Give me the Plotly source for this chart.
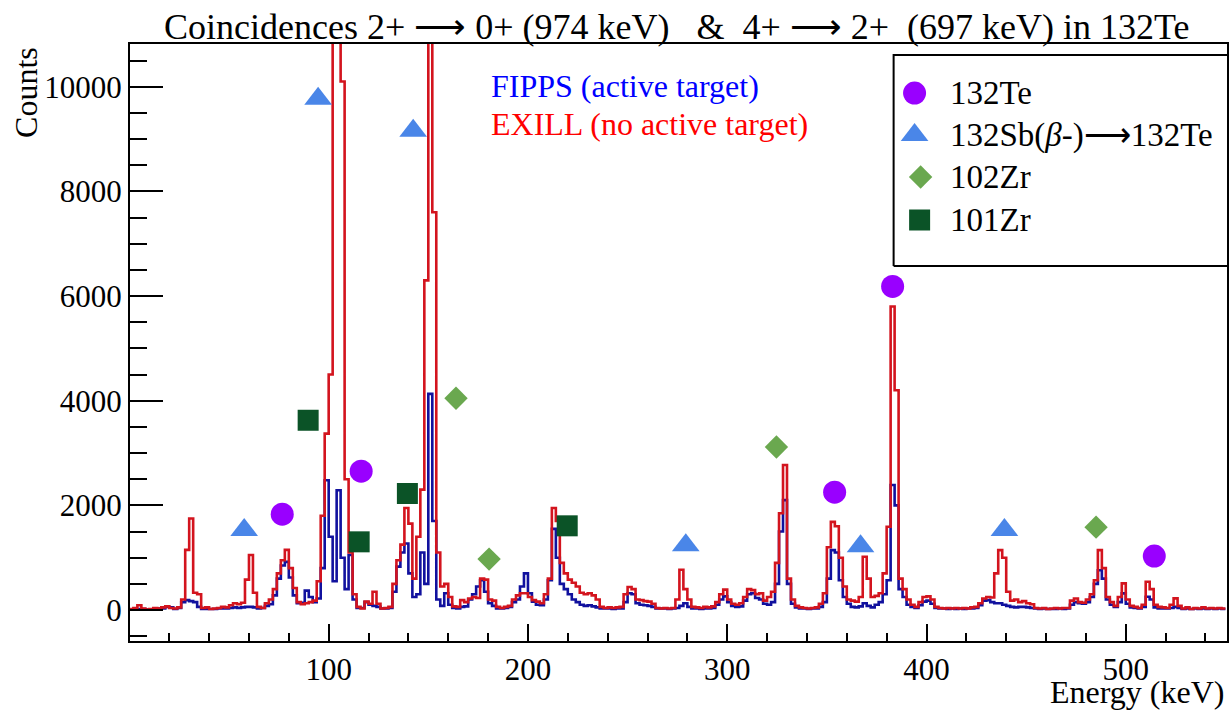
import plotly.graph_objects as go

# ---------------- data (2 keV bins, from 0 keV) ----------------
BIN_WIDTH = 2.0
E_START = 0.0

exill_counts = [
    20, 40, 90, 30, 10, 20, 40, 30, 50, 70,            # 0-20
    40, 30, 50, 200, 1150, 1750, 330, 300, 40, 50,     # 20-40
    20, 30, 40, 60, 50, 90, 130, 110, 140, 580,        # 40-60
    1050, 330, 60, 40, 130, 200, 400, 700, 950, 1150,  # 60-80
    800, 420, 150, 110, 130, 150, 180, 550, 1800, 3370,  # 80-100
    4500, 12000, 20000, 10100, 2500, 1100, 300, 60, 30, 160,  # 100-120
    120, 350, 120, 30, 40, 60, 500, 950, 1250, 1950,   # 120-140
    1650, 600, 1400, 2300, 6300, 17000, 7600, 1100, 450, 500,  # 140-160
    250, 70, 60, 190, 150, 220, 250, 230, 600, 580,    # 160-180
    200, 180, 60, 40, 60, 80, 200, 280, 320, 320,      # 180-200
    250, 190, 160, 130, 300, 600, 1950, 1700, 900, 700,  # 200-220
    580, 520, 450, 330, 300, 320, 280, 200, 60, 40,    # 220-240
    50, 40, 50, 60, 300, 440, 400, 200, 190, 170,      # 240-260
    160, 120, 40, 30, 40, 30, 40, 200, 770, 400,       # 260-280
    200, 60, 50, 40, 60, 50, 70, 150, 300, 390,        # 280-300
    200, 120, 100, 130, 250, 400, 380, 300, 320, 180,  # 300-320
    250, 350, 900, 1850, 2770, 600, 200, 80, 50, 40,   # 320-340
    30, 40, 50, 120, 320, 1200, 1685, 1600, 1000, 450,  # 340-360
    200, 180, 160, 250, 1018, 600, 250, 270, 320, 700,  # 360-380
    1590, 5800, 4200, 600, 400, 200, 100, 60, 150, 250,  # 380-400
    260, 200, 60, 40, 30, 40, 30, 40, 30, 40,          # 400-420
    30, 50, 60, 130, 220, 250, 240, 700, 1145, 1000,   # 420-440
    350, 180, 200, 150, 170, 130, 110, 40, 30, 40,     # 440-460
    20, 30, 40, 30, 40, 40, 180, 220, 150, 140,        # 460-480
    200, 300, 570, 1145, 800, 250, 150, 80, 250, 509,  # 480-500
    200, 80, 60, 40, 100, 540, 400, 100, 60, 50,       # 500-520
    40, 100, 222, 80, 30, 50, 20, 40, 30, 50,          # 520-540
    30, 40, 30, 40, 30,                                # 540-550
]

fipps_counts = [
    10, 10, 20, 20, 10, 10, 20, 30, 30, 60,            # 0-20
    50, 20, 40, 150, 190, 170, 150, 60, 20, 20,        # 20-40
    20, 20, 30, 30, 30, 40, 50, 40, 50, 60,            # 40-60
    60, 50, 30, 40, 80, 110, 280, 600, 850, 920,       # 60-80
    620, 280, 130, 140, 370, 250, 150, 220, 800, 2480,  # 80-100
    1400, 550, 2290, 1000, 400, 1050, 200, 40, 40, 150,  # 100-120
    100, 80, 60, 30, 30, 40, 350, 830, 1100, 1270,     # 120-140
    700, 250, 300, 1100, 500, 4130, 1700, 200, 80, 320,  # 140-160
    100, 40, 30, 60, 70, 200, 300, 450, 570, 350,      # 160-180
    130, 80, 30, 30, 40, 60, 150, 200, 450, 700,       # 180-200
    320, 160, 100, 90, 200, 570, 1550, 1000, 500, 400,  # 200-220
    300, 200, 150, 100, 80, 90, 70, 50, 30, 30,        # 220-240
    30, 20, 30, 30, 150, 320, 300, 130, 100, 90,       # 240-260
    80, 60, 30, 30, 30, 20, 30, 40, 80, 130,           # 260-280
    60, 30, 30, 20, 30, 30, 40, 100, 200, 260,         # 280-300
    150, 80, 60, 70, 180, 300, 320, 230, 200, 120,     # 300-320
    100, 150, 500, 1500, 2100, 500, 120, 50, 30, 30,   # 320-340
    20, 30, 30, 60, 150, 600, 1145, 1100, 570, 250,    # 340-360
    120, 60, 50, 70, 130, 80, 50, 100, 150, 300,       # 360-380
    570, 2390, 2000, 400, 250, 100, 60, 40, 90, 160,   # 380-400
    180, 120, 40, 30, 30, 20, 30, 20, 30, 20,          # 400-420
    30, 30, 40, 90, 180, 190, 150, 130, 130, 100,      # 420-440
    80, 60, 50, 60, 60, 50, 40, 30, 20, 30,            # 440-460
    20, 20, 20, 30, 20, 30, 100, 150, 130, 120,        # 460-480
    150, 250, 500, 760, 600, 200, 100, 60, 150, 318,   # 480-500
    120, 50, 40, 30, 60, 254, 200, 50, 30, 30,         # 500-520
    30, 40, 60, 40, 20, 30, 20, 30, 20, 30,            # 520-540
    20, 30, 20, 30, 20,                                # 540-550
]

# peak identification markers (energy keV, counts)
te132_E = [76.7, 116.3, 353.9, 383.0, 514.3]
te132_C = [1832, 2653, 2252, 6183, 1030]
sb132_E = [57.6, 94.7, 142.4, 279.2, 366.9, 439.1]
sb132_C = [1530, 9770, 9160, 1240, 1220, 1530]
zr102_E = [163.9, 180.5, 324.7, 485.1]
zr102_C = [4046, 973, 3114, 1584]
zr101_E = [89.7, 115.3, 139.5, 219.7]
zr101_C = [3626, 1303, 2227, 1609]

legend_labels = ["132Te", "132Sb(<i>β</i>-)\u27f6132Te", "102Zr", "101Zr"]

# ---------------- styles ----------------
FONT = "Liberation Serif, Times New Roman, serif"
C_TE = "#9900ff"
C_SB = "#4a86e8"
C_Z2 = "#6aa84f"
C_Z1 = "#0b5327"
C_BLUE = "#11119e"
C_RED = "#d3141e"

edges = [E_START + i * BIN_WIDTH for i in range(len(exill_counts) + 1)]

fig = go.Figure()
fig.add_trace(go.Scatter(x=edges, y=fipps_counts + [fipps_counts[-1]], mode="lines",
                         line=dict(color=C_BLUE, width=2.6, shape="hv"), showlegend=False))
fig.add_trace(go.Scatter(x=edges, y=exill_counts + [exill_counts[-1]], mode="lines",
                         line=dict(color=C_RED, width=2.6, shape="hv"), showlegend=False))

fig.add_trace(go.Scatter(x=te132_E, y=te132_C, mode="markers",
                         marker=dict(symbol="circle", size=23, color=C_TE), showlegend=False))
fig.add_trace(go.Scatter(x=sb132_E, y=sb132_C, mode="markers",
                         marker=dict(symbol="triangle-up", size=24, color=C_SB), showlegend=False))
fig.add_trace(go.Scatter(x=zr102_E, y=zr102_C, mode="markers",
                         marker=dict(symbol="diamond", size=18, color=C_Z2), showlegend=False))
fig.add_trace(go.Scatter(x=zr101_E, y=zr101_C, mode="markers",
                         marker=dict(symbol="square", size=21, color=C_Z1), showlegend=False))

# ---------------- custom legend box on overlay axes (paper-like 0..1) ----------------
L, T, B = 0.6961, 0.9816, 0.6281
fig.add_trace(go.Scatter(x=[L, 1.02, 1.02, L, L], y=[B, B, T, T, B], mode="lines",
                         fill="toself", fillcolor="white", line=dict(color="black", width=2),
                         xaxis="x2", yaxis="y2", showlegend=False, hoverinfo="skip"))
leg_y = [0.9179, 0.8476, 0.7772, 0.7052]
leg_x = [0.7152, 0.7152, 0.7207, 0.7198]
leg_sym = ["circle", "triangle-up", "diamond", "square"]
leg_size = [23, 24, 18, 21]
leg_col = [C_TE, C_SB, C_Z2, C_Z1]
for xx, yy, s, sz, c in zip(leg_x, leg_y, leg_sym, leg_size, leg_col):
    fig.add_trace(go.Scatter(x=[xx], y=[yy], mode="markers", xaxis="x2", yaxis="y2",
                             marker=dict(symbol=s, size=sz, color=c), showlegend=False,
                             cliponaxis=False))

ann = []
for lab, yy in zip(legend_labels, [0.9180, 0.8460, 0.7772, 0.7052]):
    ann.append(dict(text=lab, x=0.7461, y=yy, xref="paper", yref="paper",
                    xanchor="left", yanchor="middle", showarrow=False,
                    font=dict(family=FONT, size=33, color="black")))

ann.append(dict(text="Coincidences 2+ \u27f6 0+ (974 keV)\u00a0\u00a0 &\u00a0 4+ \u27f6 2+\u00a0 (697 keV) in 132Te",
                x=0.0291, y=1.0, xref="paper", yref="paper", xanchor="left", yanchor="bottom",
                yshift=-5, showarrow=False, font=dict(family=FONT, size=36, color="black")))
ann.append(dict(text="FIPPS (active target)", x=0.3276, y=0.9296, xref="paper", yref="paper",
                xanchor="left", yanchor="middle", showarrow=False,
                font=dict(family=FONT, size=32, color="#0000ff")))
ann.append(dict(text="EXILL (no active target)", x=0.3276, y=0.866, xref="paper", yref="paper",
                xanchor="left", yanchor="middle", showarrow=False,
                font=dict(family=FONT, size=32, color="#ff0000")))
ann.append(dict(text="Counts", x=-0.0955, y=0.998, xref="paper", yref="paper", textangle=-90,
                xanchor="center", yanchor="top", showarrow=False,
                font=dict(family=FONT, size=32, color="black")))
ann.append(dict(text="Energy (keV)", x=0.9991, y=-0.1190, xref="paper", yref="paper",
                xanchor="right", yanchor="bottom", showarrow=False,
                font=dict(family=FONT, size=32, color="black")))

axis_common = dict(showline=True, mirror=True, linecolor="black", linewidth=2,
                   ticks="inside", tickcolor="black", tickwidth=2, showgrid=False,
                   zeroline=False, tickfont=dict(family=FONT, size=31, color="black"))

fig.update_layout(
    width=1232, height=713,
    margin=dict(l=130, r=3, t=44, b=72),
    paper_bgcolor="white", plot_bgcolor="white",
    showlegend=False,
    annotations=ann,
    xaxis=dict(range=[0.3, 550.8], tick0=0, dtick=100, ticklen=17, tickformat="d",
               minor=dict(dtick=20, tick0=0, ticklen=8, ticks="inside", tickcolor="black", tickwidth=2),
               **axis_common),
    yaxis=dict(range=[-592, 10816], tick0=0, dtick=2000, ticklen=33, tickformat="d",
               minor=dict(dtick=500, tick0=0, ticklen=17, ticks="inside", tickcolor="black", tickwidth=2),
               **axis_common),
    xaxis2=dict(overlaying="x", range=[0, 1], visible=False, anchor="y2"),
    yaxis2=dict(overlaying="y", range=[0, 1], visible=False, anchor="x2"),
)

fig.write_html("out.html")
